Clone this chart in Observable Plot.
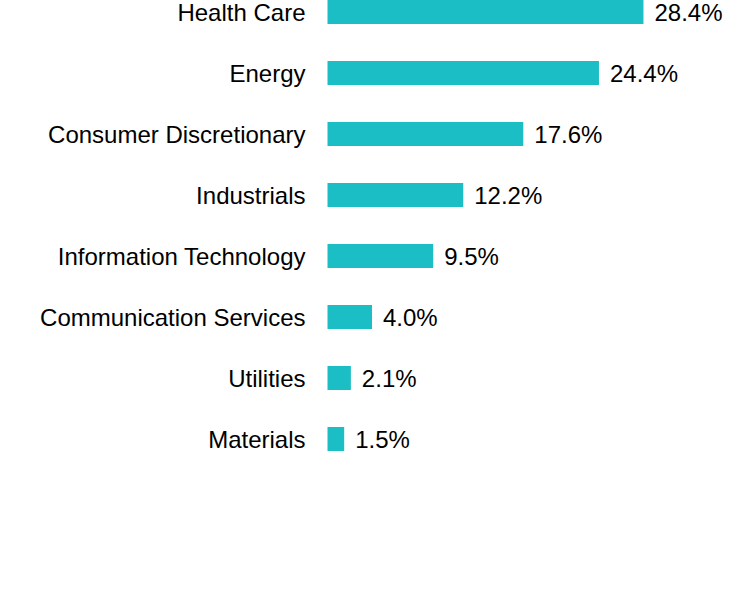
<!DOCTYPE html>
<html>
<head>
<meta charset="utf-8">
<script src="https://cdn.jsdelivr.net/npm/d3@7"></script>
<script src="https://cdn.jsdelivr.net/npm/@observablehq/plot@0.6"></script>
<style>
  html, body { margin: 0; padding: 0; background: #fff; }
  #chart { width: 732px; height: 600px; overflow: hidden; }
</style>
</head>
<body>
<div id="chart"></div>
<script>
const sectors = ["Health Care", "Energy", "Consumer Discretionary", "Industrials", "Information Technology", "Communication Services", "Utilities", "Materials"];
const weights = [28.4, 24.4, 17.6, 12.2, 9.5, 4.0, 2.1, 1.5];
const valueLabels = ["28.4%", "24.4%", "17.6%", "12.2%", "9.5%", "4.0%", "2.1%", "1.5%"];

const data = sectors.map((s, i) => ({sector: s, value: weights[i], label: valueLabels[i]}));

const fontFamily = "Arial, 'Liberation Sans', Helvetica, sans-serif";
const fs = 24;

const chart = Plot.plot({
  width: 732,
  height: 600,
  marginLeft: 327.5,
  marginRight: 4,
  marginTop: 0,
  marginBottom: 0,
  style: {fontFamily, background: "white", overflow: "hidden"},
  x: {domain: [0, 36], axis: null},
  y: {domain: sectors, range: [-18.6, 470.5], paddingInner: 0.6075, paddingOuter: 0.30375, axis: null},
  marks: [
    Plot.barX(data, {x: "value", y: "sector", fill: "#1bbec4"}),
    Plot.text(data, {x: 0, y: "sector", text: "sector", textAnchor: "end", dx: -22.5, dy: 0.5, fontSize: fs, fill: "#000"}),
    Plot.text(data, {x: "value", y: "sector", text: "label", textAnchor: "start", dx: 10.5, dy: 0.5, fontSize: fs, fill: "#000"})
  ]
});
document.getElementById("chart").appendChild(chart);
</script>
</body>
</html>
